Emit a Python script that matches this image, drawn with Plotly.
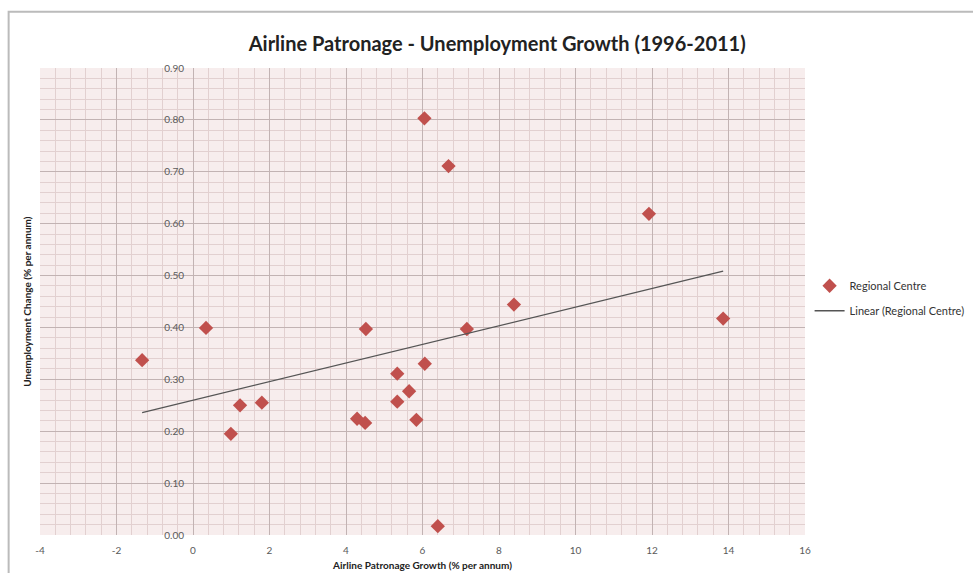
import numpy as np
import plotly.graph_objects as go

# Regional centres: airline patronage growth vs unemployment change (% p.a.)
patronage_growth = [-1.33, 0.34, 0.99, 1.23, 1.80, 4.29, 4.50, 4.52, 5.34, 5.34,
                    5.65, 5.84, 6.06, 6.40, 7.16, 8.39, 6.05, 6.68, 11.92, 13.86]
unemployment_change = [0.337, 0.399, 0.195, 0.250, 0.255, 0.224, 0.216, 0.397, 0.257, 0.311,
                       0.277, 0.222, 0.330, 0.017, 0.397, 0.444, 0.803, 0.711, 0.619, 0.417]

x_ticks = [-4, -2, 0, 2, 4, 6, 8, 10, 12, 14, 16]
y_ticks = [0.0, 0.1, 0.2, 0.3, 0.4, 0.5, 0.6, 0.7, 0.8, 0.9]
y_tick_labels = ["0.00", "0.10", "0.20", "0.30", "0.40", "0.50", "0.60", "0.70", "0.80", "0.90"]

# Least-squares trendline over the observed range
slope, intercept = np.polyfit(patronage_growth, unemployment_change, 1)
trend_x = [min(patronage_growth), max(patronage_growth)]
trend_y = [slope * v + intercept for v in trend_x]

fig = go.Figure()
fig.add_trace(go.Scatter(
    x=patronage_growth, y=unemployment_change, mode="markers",
    name="Regional Centre", legendgroup="pts",
    marker=dict(symbol="diamond", size=11, color="#c0504d",
                line=dict(width=0)),
))
fig.add_trace(go.Scatter(
    x=trend_x, y=trend_y, mode="lines",
    name="Linear (Regional Centre)", legendgroup="trend",
    line=dict(color="#555555", width=1.3),
))

grid_major = "#c2b3b3"
grid_minor = "#e2d0d0"
label_font = "Lato, Open Sans, sans-serif"
tick_font = dict(family=label_font, size=10, color="#5a5a5a")

fig.update_layout(
    width=973, height=573,
    margin=dict(l=40, r=168, t=68, b=38, autoexpand=False),
    paper_bgcolor="white",
    plot_bgcolor="#f7eded",
    title=dict(text="<b>Airline Patronage - Unemployment Growth (1996-2011)</b>",
               x=0.511, xanchor="center", y=0.923, yanchor="middle",
               font=dict(family=label_font, size=20, color="#222222")),
    showlegend=True,
    legend=dict(x=1.006, xanchor="left", y=0.507, yanchor="middle",
                bgcolor="rgba(0,0,0,0)", tracegroupgap=6,
                font=dict(family=label_font, size=11, color="#333333")),
    xaxis=dict(
        range=[-4, 16], tickvals=x_ticks, ticktext=[str(v) for v in x_ticks],
        showgrid=True, gridcolor=grid_major, gridwidth=1,
        minor=dict(dtick=0.4, showgrid=True, gridcolor=grid_minor, gridwidth=1),
        zeroline=False, showline=False, ticks="", ticklabelstandoff=8,
        tickfont=tick_font,
        title=dict(text="<b>Airline Patronage Growth (% per annum)</b>", standoff=6,
                   font=dict(family=label_font, size=10, color="#222222")),
        fixedrange=True,
    ),
    yaxis=dict(
        range=[0, 0.9], tickvals=y_ticks, ticktext=y_tick_labels,
        showgrid=True, gridcolor=grid_major, gridwidth=1,
        minor=dict(dtick=0.02, showgrid=True, gridcolor=grid_minor, gridwidth=1),
        zeroline=False, showline=False, ticks="",
        anchor="free", position=0.2, tickfont=tick_font, ticklabelstandoff=9,
        fixedrange=True,
    ),
    annotations=[dict(
        text="<b>Unemployment Change (% per annum)</b>", textangle=-90,
        xref="paper", yref="paper", x=-0.018, y=0.5, xanchor="center", yanchor="middle",
        showarrow=False,
        font=dict(family=label_font, size=10, color="#222222"),
    )],
    shapes=[dict(
        type="rect", xref="paper", yref="paper",
        x0=-0.041, x1=1.4, y0=-0.3, y1=1.1204,
        line=dict(color="#bbbbbb", width=2), fillcolor="rgba(0,0,0,0)", layer="below",
    )],
)

fig.write_html("out.html")
